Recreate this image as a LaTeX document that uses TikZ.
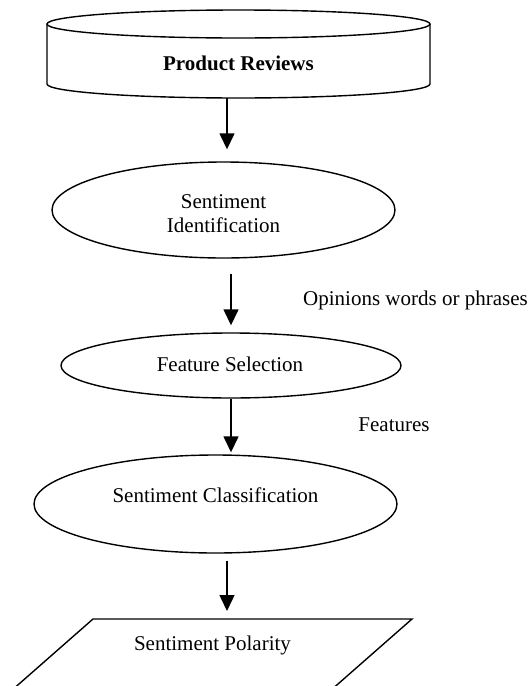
\documentclass[tikz,border=0pt]{standalone}
\usepackage{fontspec}
\setmainfont{Liberation Serif}
\usetikzlibrary{shapes.geometric,arrows.meta,calc}
\begin{document}
\begin{tikzpicture}[x=1pt,y=1pt,
  ln/.style={line width=1.4pt},
  ell/.style={ellipse, draw, line width=1.4pt, inner sep=0pt},
  txt/.style={font=\fontsize{21}{24}\selectfont, align=center, inner sep=0pt},
  arr/.style={line width=1.4pt, -{Triangle[length=16pt,width=15pt]}}]
\useasboundingbox (0,0) rectangle (529,-686);
\fill[white] (0,0) rectangle (529,-686);
% database cylinder
\draw[ln] (47,-24) -- (47,-84) arc[start angle=180,end angle=360,x radius=191.5pt,y radius=14pt] -- (430,-24);
\draw[ln] (238.5,-24) ellipse[x radius=191.5pt,y radius=14pt];
\node[txt, font=\bfseries\fontsize{21}{24}\selectfont] (pr) at (238.5,-63) {Product Reviews};
\coordinate (prb) at (227,-98);
% ellipses
\node[ell, minimum width=343pt, minimum height=96pt] (e1) at (223.5,-210) {};
\node[txt] (e1t) at (223.5,-214) {Sentiment\\Identification};
\node[ell, minimum width=340pt, minimum height=65pt] (e2) at (231,-365.5) {};
\node[txt] (e2t) at (230,-364) {Feature Selection};
\node[ell, minimum width=363pt, minimum height=98pt] (e3) at (215.5,-504) {};
\node[txt] (e3t) at (215.5,-495) {Sentiment Classification};
% parallelogram
\begin{scope}
\clip (0,0) rectangle (529,-686);
\draw[ln, line join=miter] (93,-619) -- (412,-619) -- (297,-720) -- (-22,-720) -- cycle;
\end{scope}
\coordinate (ptop) at (227,-619);
\node[txt] (sp) at (212.5,-645) {Sentiment Polarity};
% labels
\node[txt, anchor=base west] (op) at (303,-305) {Opinions words or phrases};
\node[txt] (fe) at (394,-425) {Features};
% arrows
\draw[arr, shorten >=12pt] (prb) -- (prb |- e1.north);
\draw[arr, shorten <=15pt, shorten >=7pt] ([xshift=7.5pt]e1.south) -- (e2.north);
\draw[arr, shorten >=2pt] (e2.south) -- (e2.south |- e3.north);
\draw[arr, shorten <=7pt, shorten >=8pt] ([xshift=11.5pt]e3.south) -- (ptop);
\end{tikzpicture}
\end{document}
